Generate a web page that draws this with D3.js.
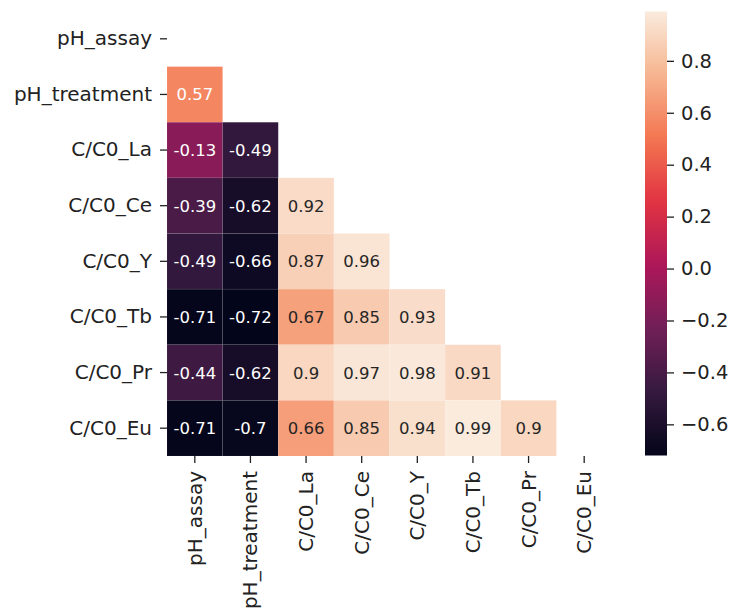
<!DOCTYPE html>
<html>
<head>
<meta charset="utf-8">
<script src="https://cdn.jsdelivr.net/npm/d3@7"></script>
<style>
  html, body { margin: 0; padding: 0; background: #ffffff; }
  svg { display: block; }
  text { font-family: "DejaVu Sans", sans-serif; }
</style>
</head>
<body>
<svg id="chart" width="732" height="612"></svg>
<script>
// ---- Data ----
const labels = ["pH_assay", "pH_treatment", "C/C0_La", "C/C0_Ce", "C/C0_Y", "C/C0_Tb", "C/C0_Pr", "C/C0_Eu"];
// lower triangle (row i has i values), diagonal and upper part masked
const row_pH_assay     = [];
const row_pH_treatment = [0.57];
const row_La = [-0.13, -0.49];
const row_Ce = [-0.39, -0.62, 0.92];
const row_Y  = [-0.49, -0.66, 0.87, 0.96];
const row_Tb = [-0.71, -0.72, 0.67, 0.85, 0.93];
const row_Pr = [-0.44, -0.62, 0.90, 0.97, 0.98, 0.91];
const row_Eu = [-0.71, -0.70, 0.66, 0.85, 0.94, 0.99, 0.90];
const rows = [row_pH_assay, row_pH_treatment, row_La, row_Ce, row_Y, row_Tb, row_Pr, row_Eu];
const vmin = -0.72, vmax = 0.99;
const cbarTicks = [-0.6, -0.4, -0.2, 0.0, 0.2, 0.4, 0.6, 0.8];

// rocket colormap (seaborn) key stops
const rocketStops = ["#03051a", "#35193e", "#701f57", "#ad1759", "#e13342", "#f37651", "#f6b48f", "#faebdd"];
const rocket = d3.scaleLinear()
  .domain(d3.range(rocketStops.length).map(i => i / (rocketStops.length - 1)))
  .range(rocketStops)
  .interpolate(d3.interpolateRgb);

// ---- Layout ----
const svg = d3.select("#chart");
const hm = { left: 167, top: 11, size: 445 };
const cb = { left: 645, width: 22, top: 11.5, bottom: 455.5 };

const x = d3.scaleBand().domain(labels).range([hm.left, hm.left + hm.size]);
const y = d3.scaleBand().domain(labels).range([hm.top, hm.top + hm.size]);
const color = d3.scaleSequential(t => rocket(t)).domain([vmin, vmax]);

const cells = [];
rows.forEach((vals, i) => vals.forEach((v, j) => cells.push({ r: labels[i], c: labels[j], v })));

const loc = d3.formatLocale({ decimal: ".", thousands: ",", grouping: [3], currency: ["", ""], minus: "-" });
const fmt = loc.format(".2~g");

function lum(c) {
  const rgb = d3.rgb(c);
  const f = u => { u /= 255; return u <= 0.03928 ? u / 12.92 : Math.pow((u + 0.055) / 1.055, 2.4); };
  return 0.2126 * f(rgb.r) + 0.7152 * f(rgb.g) + 0.0722 * f(rgb.b);
}

const g = svg.append("g");
g.selectAll("rect.cell").data(cells).enter().append("rect")
  .attr("class", "cell")
  .attr("x", d => x(d.c)).attr("y", d => y(d.r))
  .attr("width", x.bandwidth()).attr("height", y.bandwidth())
  .attr("fill", d => color(d.v))
  .attr("stroke", "rgba(255,255,255,0.1)").attr("stroke-width", 0.6);

g.selectAll("text.annot").data(cells).enter().append("text")
  .attr("class", "annot")
  .attr("x", d => x(d.c) + x.bandwidth() / 2)
  .attr("y", d => y(d.r) + y.bandwidth() / 2)
  .attr("dy", "0.36em")
  .attr("text-anchor", "middle")
  .attr("font-size", "16.5px")
  .attr("fill", d => lum(color(d.v)) > 0.408 ? "#262626" : "#ffffff")
  .text(d => fmt(d.v));

// ---- Axes ----
const yAxis = d3.axisLeft(y).tickSize(7).tickPadding(8);
const gy = svg.append("g").attr("transform", `translate(${hm.left},0)`).call(yAxis);
gy.select(".domain").remove();
gy.selectAll(".tick line").attr("stroke", "#222").attr("stroke-width", 1.3);
gy.selectAll(".tick text").attr("font-size", "20px").attr("fill", "#222")
  .attr("font-family", "DejaVu Sans, sans-serif");

const xAxis = d3.axisBottom(x).tickSize(7).tickPadding(8);
const gx = svg.append("g").attr("transform", `translate(0,${hm.top + hm.size})`).call(xAxis);
gx.select(".domain").remove();
gx.selectAll(".tick line").attr("stroke", "#222").attr("stroke-width", 1.3);
gx.selectAll(".tick text").attr("font-size", "20px").attr("fill", "#222")
  .attr("font-family", "DejaVu Sans, sans-serif")
  .attr("text-anchor", "end")
  .attr("transform", "rotate(-90)")
  .attr("x", -15).attr("y", 0).attr("dy", "0.35em");

// ---- Colorbar ----
const cbY = d3.scaleLinear().domain([vmin, vmax]).range([cb.bottom, cb.top]);
const defs = svg.append("defs");
const grad = defs.append("linearGradient").attr("id", "cbgrad")
  .attr("x1", 0).attr("y1", 1).attr("x2", 0).attr("y2", 0);
d3.range(0, 1.0001, 0.02).forEach(t => {
  grad.append("stop").attr("offset", t).attr("stop-color", rocket(t));
});
svg.append("rect")
  .attr("x", cb.left).attr("y", cb.top)
  .attr("width", cb.width).attr("height", cb.bottom - cb.top)
  .attr("fill", "url(#cbgrad)");

const cAxis = d3.axisRight(cbY).tickValues(cbarTicks).tickFormat(d3.format(".1f")).tickSize(7).tickPadding(7);
const gc = svg.append("g").attr("transform", `translate(${cb.left + cb.width},0)`).call(cAxis);
gc.select(".domain").remove();
gc.selectAll(".tick line").attr("stroke", "#222").attr("stroke-width", 1.3);
gc.selectAll(".tick text").attr("font-size", "19.5px").attr("fill", "#222")
  .attr("font-family", "DejaVu Sans, sans-serif");
</script>
</body>
</html>
